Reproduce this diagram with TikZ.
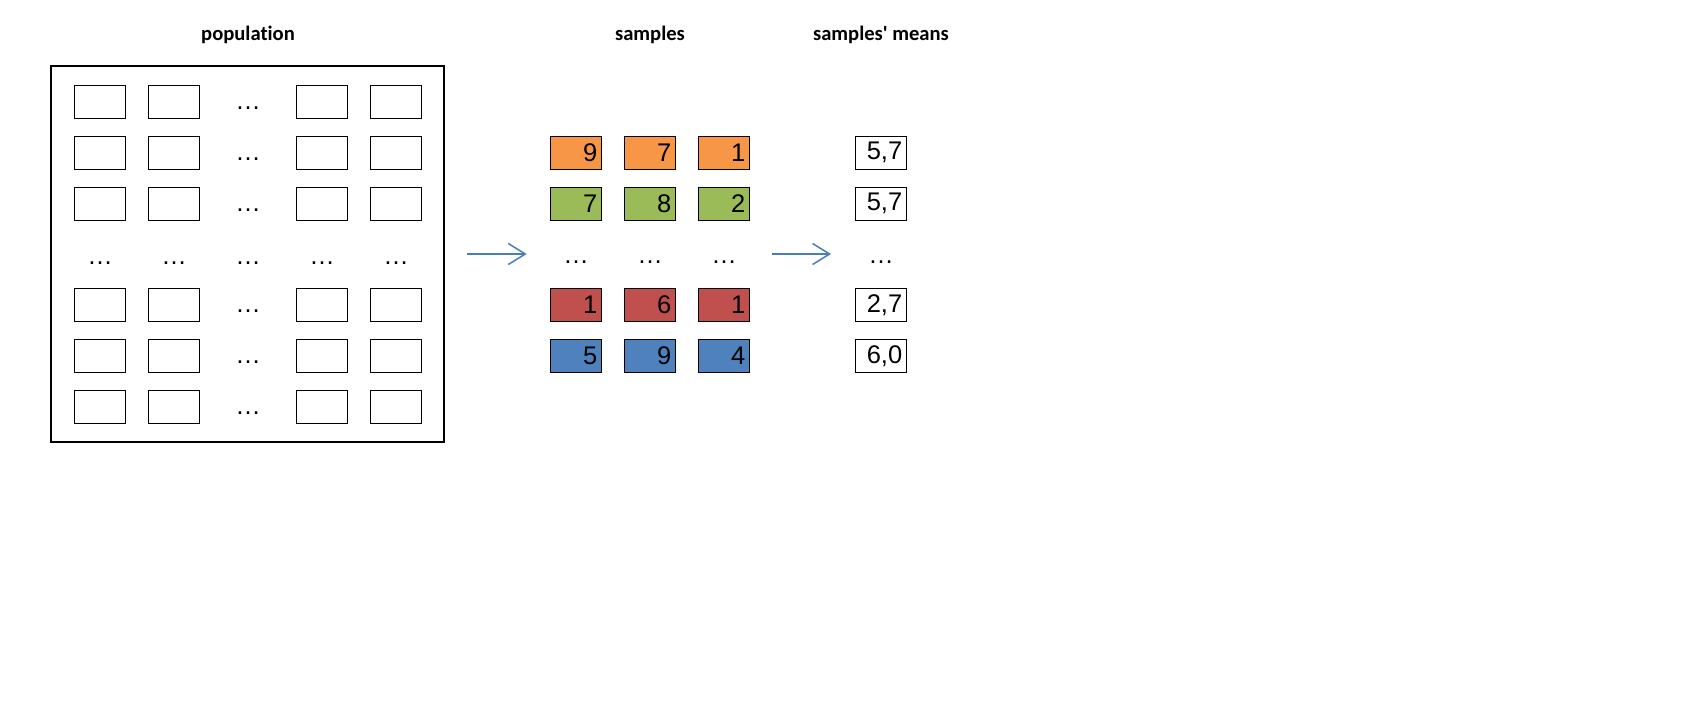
\documentclass[tikz,border=0pt]{standalone}
\usepackage{fontspec}
\setmainfont{Liberation Sans}
\newfontfamily\titlefont{Carlito}[Ligatures=NoCommon]
\usetikzlibrary{arrows.meta}
\definecolor{sorange}{HTML}{F79646}
\definecolor{sgreen}{HTML}{9BBB59}
\definecolor{sred}{HTML}{C0504D}
\definecolor{sblue}{HTML}{4F81BD}
\definecolor{arrowblue}{HTML}{4A7EBB}
\newcommand{\numfont}{\fontsize{25.5}{28}\selectfont}
\newcommand{\ttlfont}{\titlefont\bfseries\fontsize{20.6}{24}\selectfont}
\begin{document}
\begin{tikzpicture}[x=1pt,y=-1pt,
  popcell/.style={draw=black, line width=1.2pt, minimum width=51.4pt, minimum height=33pt, inner sep=0pt, outer sep=0pt},
  numcell/.style={draw=black, line width=1.2pt, minimum height=33pt, text width=42.4pt, inner xsep=4.5pt, inner ysep=0pt, align=right, font=\numfont, outer sep=0pt},
  dotsnode/.style={anchor=base, inner sep=0pt, font=\numfont},
  title/.style={anchor=base, inner sep=0pt, font=\ttlfont},
  flow/.style={draw=arrowblue, line width=1.5pt, -{Straight Barb[length=17pt,width=21pt,line width=1.5pt]}}]
\useasboundingbox[fill=white] (0,0) rectangle (1704,707);

% titles
\node[title] (tpop) at (248,40.7) {population};
\node[title] (tsam) at (650,40.7) {samples};
\node[title] (tmean) at (881,40.7) {samples' means};

% population frame
\node[draw=black, line width=2.4pt, minimum width=393.3pt, minimum height=376pt, inner sep=0pt] (frame) at (247.35,253.7) {};

% population cells
\foreach \r/\y in {1/101.8,2/152.8,3/203.8,5/304.8,6/355.8,7/406.8}{
  \foreach \c/\x in {1/100,2/174,4/322,5/396}{
    \node[popcell] (p-\r-\c) at (\x,\y) {};
  }
  \node[dotsnode] (pd-\r) at (248,\y+8) {…};
}
\foreach \c/\x in {1/100,2/174,3/248,4/322,5/396}{
  \node[dotsnode] (pdr-\c) at (\x,264) {…};
}

% samples
\foreach \r/\y/\col/\a/\b/\cc/\m in {1/152.8/sorange/9/7/1/{5,7},2/203.8/sgreen/7/8/2/{5,7},4/304.8/sred/1/6/1/{2,7},5/355.8/sblue/5/9/4/{6,0}}{
  \node[numcell, fill=\col] (s-\r-1) at (576,\y) {\a};
  \node[numcell, fill=\col] (s-\r-2) at (650,\y) {\b};
  \node[numcell, fill=\col] (s-\r-3) at (724,\y) {\cc};
  \node[numcell, fill=white] (m-\r) at (881,\y) {\m};
}
\node[dotsnode] (sd-1) at (576,263) {…};
\node[dotsnode] (sd-2) at (650,263) {…};
\node[dotsnode] (sd-3) at (724,263) {…};
\node[dotsnode] (md) at (881,263) {…};

% arrows
\coordinate (a1s) at (466.7,254);
\coordinate (a1e) at (526.7,254);
\coordinate (a2s) at (771.7,254);
\coordinate (a2e) at (831,254);
\draw[flow] (a1s) -- (a1e);
\draw[flow] (a2s) -- (a2e);
\end{tikzpicture}
\end{document}
